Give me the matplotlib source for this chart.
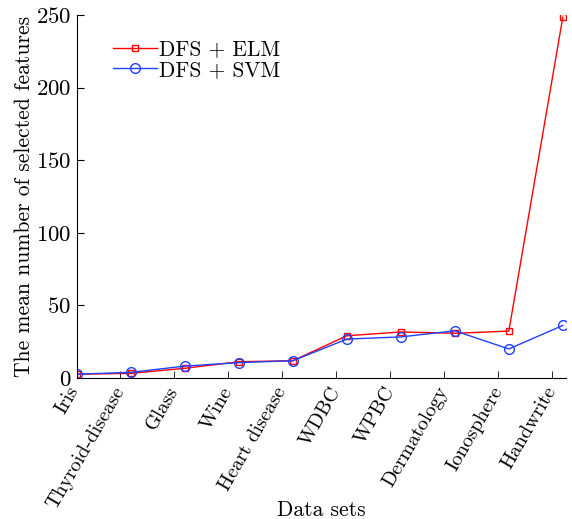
import matplotlib
matplotlib.use("Agg")
import matplotlib.pyplot as plt

datasets = ['Iris', 'Thyroid-disease', 'Glass', 'Wine', 'Heart disease',
            'WDBC', 'WPBC', 'Dermatology', 'Ionosphere', 'Handwrite']
elm = [2.6, 3.2, 6.7, 11.2, 11.9, 29.1, 31.7, 30.8, 32.3, 248.5]
svm = [2.6, 3.9, 8.2, 10.6, 11.9, 26.8, 28.3, 32.5, 20.0, 36.2]

plt.rcParams['font.family'] = 'serif'
plt.rcParams['font.serif'] = ['cmr10', 'DejaVu Serif']
plt.rcParams['mathtext.fontset'] = 'cm'
plt.rcParams['axes.formatter.use_mathtext'] = True

fig = plt.figure(figsize=(5.72, 5.19), dpi=100)
ax = fig.add_axes([0.1346, 0.2717, 0.855, 0.6993])

x = list(range(len(datasets)))
ax.plot(x, elm, color='#ff0000', lw=1, marker='s', ms=5, mfc='none',
        mew=1, label='DFS + ELM')
ax.plot(x, svm, color='#2040ff', lw=1, marker='o', ms=7, mfc='none',
        mew=1, label='DFS + SVM')

ax.set_xlim(0, 9.06)
ax.set_ylim(0, 250)
ax.set_yticks([0, 50, 100, 150, 200, 250])

# tick marks sit a little left of the points, labels between
ax.set_xticks([i - 0.2 for i in range(1, 10)], minor=True)
label_pos = [0.1] + [i - 0.05 for i in range(1, 10)]
ax.set_xticks(label_pos)
ax.set_xticklabels(datasets, rotation=60, ha='right', fontsize=14.5)
ax.tick_params(axis='x', which='major', length=0, pad=4)
ax.tick_params(axis='x', which='minor', direction='in', length=5)
ax.tick_params(axis='y', direction='in', length=5, labelsize=16.5, pad=4)

for s in ['top', 'right']:
    ax.spines[s].set_visible(False)

ax.set_ylabel('The mean number of selected features', fontsize=15.5)
ax.yaxis.set_label_coords(-0.088, 0.5)
ax.set_xlabel('Data sets', fontsize=15.5)
ax.xaxis.set_label_coords(0.499, -0.338)
ax.legend(loc='upper left', bbox_to_anchor=(0.035, 0.985), frameon=False,
          fontsize=15.5, handlelength=2.0, handletextpad=0.1, labelspacing=0.05)

fig.savefig('out.png', dpi=100)
